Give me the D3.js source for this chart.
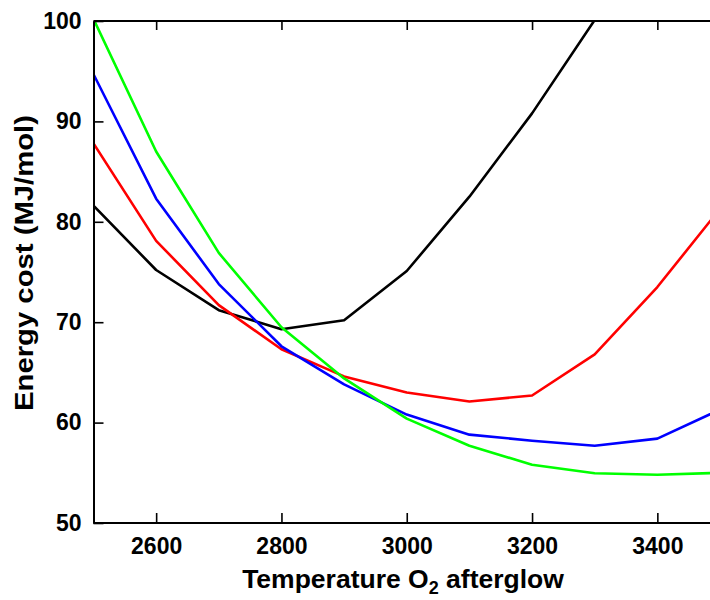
<!DOCTYPE html>
<html>
<head>
<meta charset="utf-8">
<script src="https://cdn.jsdelivr.net/npm/d3@7"></script>
<style>
  html, body { margin: 0; padding: 0; background: #fff; }
  svg { display: block; font-family: "Liberation Sans", Arial, sans-serif; font-weight: bold; }
</style>
</head>
<body>
<svg id="chart" width="710" height="600"></svg>
<script>
// ---- data ----
const temperatures = [2500, 2600, 2700, 2800, 2900, 3000, 3100, 3200, 3300, 3400, 3500];
const seriesBlack = [81.6, 75.2, 71.2, 69.3, 70.2, 75.1, 82.5, 90.8, 100.1, null, null];
const seriesRed   = [87.8, 78.1, 71.7, 67.3, 64.6, 63.0, 62.1, 62.7, 66.8, 73.5, 81.3];
const seriesBlue  = [94.7, 82.3, 73.8, 67.6, 63.8, 60.8, 58.8, 58.2, 57.7, 58.4, 61.3];
const seriesGreen = [100.2, 87.0, 76.9, 69.5, 64.4, 60.4, 57.7, 55.8, 54.95, 54.8, 55.0];
const seriesColors = ["#000000", "#ff0000", "#0000ff", "#00ff00"];
const xTicks = [2600, 2800, 3000, 3200, 3400];
const yTicks = [50, 60, 70, 80, 90, 100];
const xDomain = [2500, 3500];
const yDomain = [50, 100];

// ---- layout ----
const svg = d3.select("#chart");
const W = 710;
const mLeft = 93.5, mRight = 720, mTop = 21, mBottom = 523;

const x = d3.scaleLinear().domain(xDomain).range([mLeft, mRight]);
const y = d3.scaleLinear().domain(yDomain).range([mBottom, mTop]);

svg.append("defs").append("clipPath").attr("id", "clip")
  .append("rect").attr("x", mLeft).attr("y", mTop).attr("width", mRight - mLeft).attr("height", mBottom - mTop);

const allSeries = [seriesBlack, seriesRed, seriesBlue, seriesGreen];
const line = d3.line()
  .defined(d => d[1] !== null)
  .x(d => x(d[0])).y(d => y(d[1]));

const plot = svg.append("g").attr("clip-path", "url(#clip)");
allSeries.forEach((s, i) => {
  plot.append("path")
    .datum(temperatures.map((t, j) => [t, s[j]]))
    .attr("fill", "none")
    .attr("stroke", seriesColors[i])
    .attr("stroke-width", 2.6)
    .attr("stroke-linejoin", "round")
    .attr("d", line);
});

// ---- axes ----
const fs = 23;
const xAxisB = d3.axisBottom(x).tickValues(xTicks).tickSizeInner(-10).tickSizeOuter(0).tickPadding(15).tickFormat(d3.format("d"));
const gx = svg.append("g").attr("transform", `translate(0,${mBottom})`).call(xAxisB);
gx.select(".domain").attr("stroke-width", 2).attr("d", `M${mLeft},0H${W}`);
gx.selectAll(".tick line").attr("stroke-width", 1.6);
gx.selectAll("text").attr("font-size", fs).attr("font-weight", "bold").attr("fill", "#000").attr("font-family", "Liberation Sans, Arial, sans-serif");

const xAxisT = d3.axisTop(x).tickValues(xTicks).tickSizeInner(-9).tickSizeOuter(0).tickFormat("");
const gxt = svg.append("g").attr("transform", `translate(0,${mTop})`).call(xAxisT);
gxt.select(".domain").attr("stroke-width", 2).attr("d", `M${mLeft},0H${W}`);
gxt.selectAll(".tick line").attr("stroke-width", 1.6);

const yAxis = d3.axisLeft(y).tickValues(yTicks).tickSizeInner(-10).tickSizeOuter(0).tickPadding(12).tickFormat(d3.format("d"));
const gy = svg.append("g").attr("transform", `translate(${mLeft},0)`).call(yAxis);
gy.select(".domain").attr("stroke-width", 2);
gy.selectAll(".tick line").attr("stroke-width", 1.6);
gy.selectAll("text").attr("font-size", fs).attr("font-weight", "bold").attr("fill", "#000").attr("font-family", "Liberation Sans, Arial, sans-serif");

// ---- titles ----
const xt = svg.append("text")
  .attr("x", 403).attr("y", 588)
  .attr("text-anchor", "middle")
  .attr("font-size", 26.5).attr("fill", "#000");
xt.append("tspan").text("Temperature O");
xt.append("tspan").attr("font-size", 18).attr("dy", 6).text("2");
xt.append("tspan").attr("dy", -6).text(" afterglow");

svg.append("text")
  .attr("transform", "translate(33,263) rotate(-90)")
  .attr("text-anchor", "middle")
  .attr("font-size", 25).attr("fill", "#000")
  .attr("textLength", 296).attr("lengthAdjust", "spacingAndGlyphs")
  .text("Energy cost (MJ/mol)");
</script>
</body>
</html>
